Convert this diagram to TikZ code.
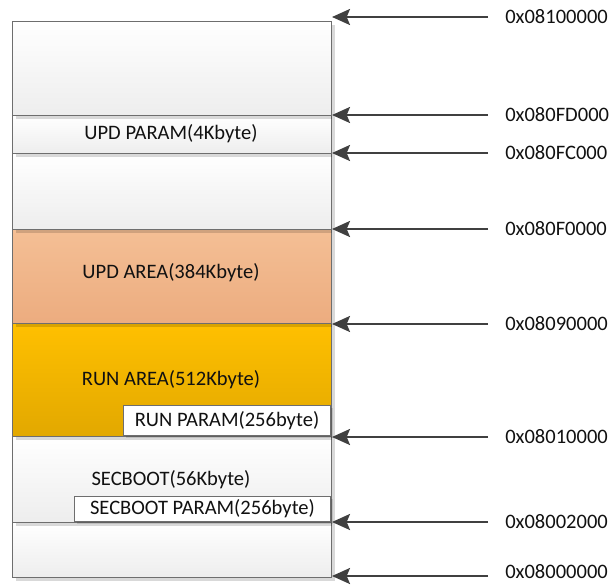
\documentclass[tikz,border=0pt]{standalone}
\usepackage{fontspec}
\setmainfont{Carlito}
\usetikzlibrary{arrows.meta,shadows}
\definecolor{txt}{HTML}{111111}
\definecolor{arrc}{HTML}{404040}
\definecolor{bordc}{HTML}{6E6E6E}
\definecolor{updtop}{HTML}{F4BF95}
\definecolor{updbot}{HTML}{ECAC7F}
\definecolor{runtop}{HTML}{FFC000}
\definecolor{runbot}{HTML}{E2A800}
\begin{document}
\begin{tikzpicture}[x=0.75pt,y=-0.75pt,
  font=\fontsize{15.4}{18}\selectfont,
  mem/.style={draw=bordc, line width=0.8pt, inner sep=0pt, anchor=north west,
    drop shadow={shadow xshift=2.5pt, shadow yshift=-2.5pt, fill=black, opacity=0.15}},
  greybox/.style={mem, top color=white, bottom color=black!7},
  updbox/.style={mem, top color=updtop, bottom color=updbot},
  runbox/.style={mem, top color=runtop, bottom color=runbot},
  parbox/.style={draw=bordc, line width=0.8pt, fill=white, inner sep=0pt, anchor=south east,
    text=txt,
    drop shadow={shadow xshift=2pt, shadow yshift=-2pt, fill=black, opacity=0.12}},
  lbl/.style={text=txt},
  addr/.style={anchor=west, inner xsep=12.75pt, inner ysep=0pt, text=txt},
  arr/.style={draw=arrc, line width=1.8pt, -{Stealth[length=13.5pt,width=12pt,inset=2.5pt]}}
]
\useasboundingbox (0,0) rectangle (614,585);
% memory blocks drawn from bottom to top so shadows fall on the lower block
\node[greybox, minimum width=319*0.75pt, minimum height=55*0.75pt] (bot) at (12,522) {};
\node[greybox, minimum width=319*0.75pt, minimum height=86*0.75pt] (sec) at (12,436) {};
\node[parbox, minimum width=256*0.75pt, minimum height=25*0.75pt] (secp) at (331,522) {SECBOOT PARAM(256byte)};
\node[lbl] (secl) at (171,480) {SECBOOT(56Kbyte)};
\node[runbox, minimum width=319*0.75pt, minimum height=113*0.75pt] (run) at (12,323) {};
\node[parbox, minimum width=207*0.75pt, minimum height=30*0.75pt] (runp) at (331,436) {RUN PARAM(256byte)};
\node[lbl] (runl) at (171,380) {RUN AREA(512Kbyte)};
\node[updbox, minimum width=319*0.75pt, minimum height=94*0.75pt] (upd) at (12,229) {};
\node[lbl] (updl) at (171,273) {UPD AREA(384Kbyte)};
\node[greybox, minimum width=319*0.75pt, minimum height=76*0.75pt] (gap) at (12,153) {};
\node[greybox, minimum width=319*0.75pt, minimum height=38*0.75pt] (updp) at (12,115) {};
\node[lbl] (updpl) at (171,134) {UPD PARAM(4Kbyte)};
\node[greybox, minimum width=319*0.75pt, minimum height=94*0.75pt] (top) at (12,21) {};
% boundary points
\coordinate (b1) at (332,17);
\coordinate (b2) at (332,115);
\coordinate (b3) at (332,153);
\coordinate (b4) at (332,229);
\coordinate (b5) at (332,324);
\coordinate (b6) at (332,437);
\coordinate (b7) at (332,522);
\coordinate (b8) at (332,576);
% addresses
\node[addr] (a1) at (488,17) {0x08100000};
\node[addr] (a2) at (488,115) {0x080FD000};
\node[addr] (a3) at (488,153) {0x080FC000};
\node[addr] (a4) at (488,229) {0x080F0000};
\node[addr] (a5) at (488,324) {0x08090000};
\node[addr] (a6) at (488,437) {0x08010000};
\node[addr] (a7) at (488,522) {0x08002000};
\node[addr] (a8) at (488,572) {0x08000000};
\foreach \i in {1,...,7} \draw[arr] (a\i.west) -- (b\i);
\draw[arr] (a8.west |- b8) -- (b8);
\end{tikzpicture}
\end{document}
